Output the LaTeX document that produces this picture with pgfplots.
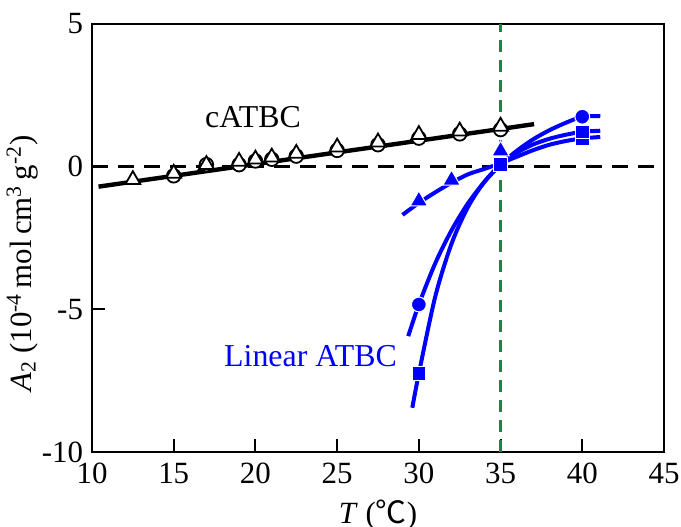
\documentclass[border=0pt]{standalone}
\usepackage{fontspec}
\setmainfont{Liberation Serif}
\newfontfamily\cjk{Noto Sans CJK SC}
\usepackage{pgfplots}
\pgfplotsset{compat=1.18}
\definecolor{vgreen}{RGB}{20,135,70}

\begin{document}
\begin{tikzpicture}
\begin{axis}[
    at={(0,0)}, anchor=south west,
    scale only axis,
    width=286bp, height=214bp,
    xmin=10, xmax=45, ymin=-10, ymax=5,
    xtick={10,15,20,25,30,35,40,45},
    xticklabels={10,15,20,25,30,35,40,45},
    ytick={-10,-5,0,5},
    yticklabels={-10,-5,0,5},
    tick pos=left, tick align=inside,
    major tick length=6.5bp,
    tick style={line width=1bp, black},
    axis line style={line width=1.3bp},
    ticklabel style={font=\fontsize{15.5}{18}\selectfont},
    xticklabel style={yshift=-2bp},
    yticklabel style={xshift=-1bp},
    xlabel={\textit{T} ({\cjk ℃})},
    ylabel={\textit{A}\textsubscript{2} (10\textsuperscript{-4}\,mol\,cm\textsuperscript{3}\,g\textsuperscript{-2})},
    label style={font=\fontsize{15.5}{18}\selectfont},
    xlabel style={at={(axis description cs:0.5,-0.147)}, anchor=center},
    ylabel style={at={(axis description cs:-0.122,0.44)}, anchor=center},
    clip=false,
]
% reference lines
\addplot[black, line width=1.4bp, dash pattern=on 8bp off 5bp] coordinates {(10,0) (45,0)};
\addplot[vgreen, line width=1.4bp, dash pattern=on 6bp off 4bp] coordinates {(35,-10) (35,5)};

% cATBC
\addplot[black, line width=2.2bp] coordinates {(10.4,-0.70) (37.05,1.49)};
\addplot[only marks, mark=*, mark size=3.4bp, mark options={draw=black, fill=white, line width=0.9bp}]
    coordinates {
        (15,-0.32) (17,0.07) (19,0.07) (20,0.20) (21,0.26) (22.5,0.37)
        (25,0.57) (27.5,0.77) (30,1.00) (32.5,1.15) (35,1.30)
    };
\addplot[only marks, mark=triangle*, mark size=4.3bp, mark options={draw=black, fill=white, line width=0.9bp}]
    coordinates {
        (12.5,-0.46) (15,-0.24) (17,0.07) (19,0.18) (20,0.26) (21,0.33)
        (22.5,0.46) (25,0.68) (27.5,0.86) (30,1.12) (32.5,1.24) (35,1.41)
    };

% Linear ATBC curves
\addplot[blue, line width=2bp, smooth] coordinates {
    (29.35,-5.94) (30,-4.83) (31,-3.39) (32,-2.23) (33,-1.29) (34,-0.54)
    (35,0.07) (36,0.56) (37,0.96) (38,1.28) (39,1.54) (40,1.75) (41.1,1.77)
};
\addplot[blue, line width=2bp, smooth] coordinates {
    (29.6,-8.45) (30,-7.25) (31,-4.56) (32,-2.70) (33,-1.42) (34,-0.54)
    (35,0.07) (36,0.49) (37,0.78) (38,0.98) (39,1.12) (40,1.22) (41.1,1.26)
};
\addplot[blue, line width=2bp, smooth] coordinates {
    (29.0,-1.69) (30,-1.27) (31,-0.90) (32,-0.56) (33,-0.27) (34,-0.08)
    (35,0.12) (36,0.35) (37,0.58) (38,0.77) (39,0.90) (40,0.99) (41.1,1.04)
};
\addplot[only marks, mark=triangle*, mark size=5bp, mark options={draw=white, fill=blue, line width=0.5bp}]
    coordinates {(30,-1.20) (32,-0.47) (35,0.55)};
\addplot[only marks, mark=*, mark size=3.7bp, mark options={draw=white, fill=blue, line width=0.5bp}]
    coordinates {(30,-4.83) (35,0.10) (40,1.75)};
\addplot[only marks, mark=square*, mark size=3.4bp, mark options={draw=white, fill=blue, line width=0.5bp}]
    coordinates {(40,0.99) (30,-7.25) (35,0.07) (40,1.22)};

\node[font=\fontsize{16}{18}\selectfont] at (axis cs:19.85,1.75) {cATBC};
\node[font=\fontsize{16}{18}\selectfont, text=blue] at (axis cs:23.37,-6.64) {Linear ATBC};
\end{axis}
\pgfresetboundingbox
\path[use as bounding box] (-46bp,-37.5bp) rectangle (294.5bp,226bp);
\end{tikzpicture}
\end{document}
